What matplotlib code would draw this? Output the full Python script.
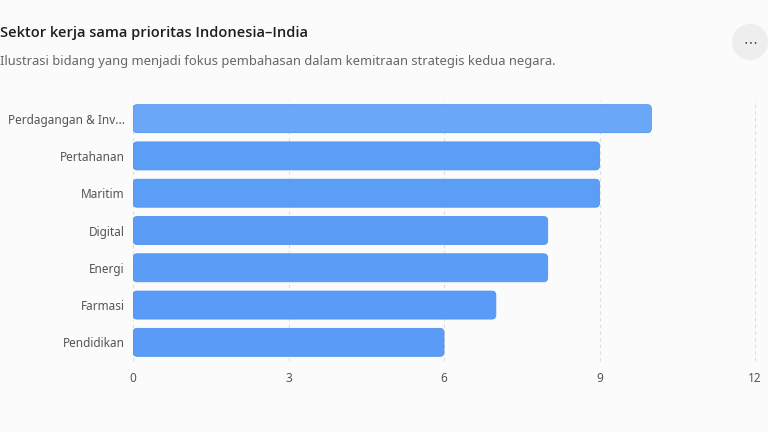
import matplotlib
matplotlib.use('Agg')
import matplotlib.pyplot as plt
from matplotlib.patches import FancyBboxPatch, Ellipse

plt.rcParams['font.family'] = ['Noto Sans', 'DejaVu Sans']

categories = ['Perdagangan & Inv...', 'Pertahanan', 'Maritim', 'Digital', 'Energi', 'Farmasi', 'Pendidikan']
values = [10, 9, 9, 8, 8, 7, 6]
bar_colors = ['#6aa7f8', '#5b9ef6', '#5b9ef6', '#5a9cf6', '#5a9cf6', '#599bf6', '#599bf6']
xticks = [0, 3, 6, 9, 12]

bg = '#fbfbfb'
fig = plt.figure(figsize=(7.68, 4.32), dpi=100, facecolor=bg)
ax = fig.add_axes([133/768, 1 - 361/432, 622/768, 261/432], facecolor=bg)

ypos = list(range(len(categories)))
for y, v, c in zip(ypos, values, bar_colors):
    box = FancyBboxPatch((0, y - 0.375), v, 0.75,
                         boxstyle='round,pad=0,rounding_size=0.08',
                         mutation_aspect=1.39, facecolor=c, edgecolor='#4f93ef',
                         linewidth=0.6)
    ax.add_patch(box)

ax.set_xlim(0, 12)
ax.set_ylim(len(categories) - 0.5, -0.5)
ax.set_yticks(ypos)
ax.set_yticklabels(categories)
ax.set_xticks(xticks)
ax.set_xticklabels([str(t) for t in xticks])
ax.tick_params(axis='both', length=0, labelsize=8.5, colors='#555555')
ax.tick_params(axis='y', pad=6)
ax.tick_params(axis='x', pad=8)
for t in xticks:
    ax.axvline(t, color='#dddddd', linestyle=(0, (3, 3)), linewidth=0.8, zorder=0, clip_on=False)
for s in ax.spines.values():
    s.set_visible(False)

fig.text(0.5/768, 1 - 33/432, 'Sektor kerja sama prioritas Indonesia\u2013India',
         fontsize=10.5, fontweight='semibold', family=['Open Sans', 'DejaVu Sans'],
         color='#1e1e1e', va='center', ha='left')
fig.text(0.5/768, 1 - 62/432,
         'Ilustrasi bidang yang menjadi fokus pembahasan dalam kemitraan strategis kedua negara.',
         fontsize=9.3, color='#666666', va='center', ha='left')

# menu button
fig.patches.append(Ellipse((750/768, 1 - 42/432), 36/768, 36/432, transform=fig.transFigure,
                           facecolor='#eeeeee', edgecolor='none'))
fig.text(750/768, 1 - 43/432, '\u22ef', fontsize=10, color='#444444', ha='center', va='center')

fig.savefig('out.png', dpi=100, facecolor=bg)
